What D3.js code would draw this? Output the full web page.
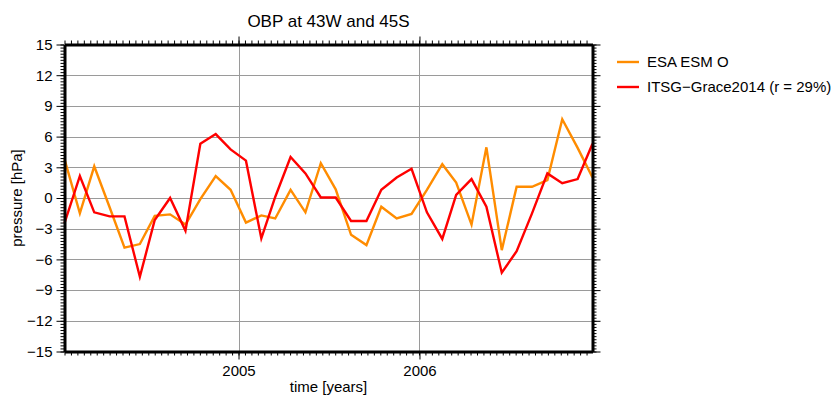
<!DOCTYPE html>
<html>
<head>
<meta charset="utf-8">
<script src="https://cdn.jsdelivr.net/npm/d3@7"></script>
<style>
  body { margin: 0; background: #fff; }
  svg { font-family: "Liberation Sans", Arial, sans-serif; }
  .grid line { stroke: #9a9a9a; stroke-width: 1; }
</style>
</head>
<body>
<div id="vis"></div>
<script>
// monthly samples, mid-month
const MONTHS = ["2004-01","2004-02","2004-03","2004-04","2004-05","2004-06","2004-07","2004-08","2004-09","2004-10","2004-11","2004-12",
                "2005-01","2005-02","2005-03","2005-04","2005-05","2005-06","2005-07","2005-08","2005-09","2005-10","2005-11","2005-12",
                "2006-01","2006-02","2006-03","2006-04","2006-05","2006-06","2006-07","2006-08","2006-09","2006-10","2006-11","2006-12"];

// ESA ESM O [hPa]
const ESA = [3.8, -1.5, 3.1, -0.9, -4.85, -4.5, -1.75, -1.6, -2.6, -0.1, 2.15, 0.8,
             -2.4, -1.7, -2.0, 0.8, -1.4, 3.4, 0.85, -3.6, -4.6, -0.85, -2.0, -1.55,
             0.8, 3.3, 1.5, -2.6, 4.95, -5.1, 1.1, 1.1, 1.75, 7.7, 4.9, 2.0];

// ITSG-Grace2014 [hPa]
const ITSG = [-2.45, 2.15, -1.4, -1.8, -1.8, -7.7, -2.15, 0.0, -3.2, 5.3, 6.25, 4.75,
              3.65, -3.95, 0.1, 4.0, 2.4, 0.05, 0.05, -2.25, -2.25, 0.8, 2.0, 2.85,
              -1.4, -4.0, 0.3, 1.85, -0.85, -7.3, -5.2, -1.5, 2.4, 1.45, 1.85, 5.3];

const Y_TICKS = [-15, -12, -9, -6, -3, 0, 3, 6, 9, 12, 15];
const X_TICKS = ["2005-01-01", "2006-01-01"];

const SERIES = [
  {name: "ESA ESM O", values: ESA, color: "#ff8c00"},
  {name: "ITSG\u2212Grace2014 (r = 29%)", values: ITSG, color: "#ff0000"}
];

const WIDTH = 840, HEIGHT = 396;
const PLOT = {left: 64.5, right: 592.5, top: 44.5, bottom: 351.5};

const parseMonth = d3.timeParse("%Y-%m");
const DATES = MONTHS.map((m) => d3.timeDay.offset(parseMonth(m), 15));

const svg = d3.select("#vis").append("svg")
  .attr("width", WIDTH)
  .attr("height", HEIGHT);

const X_SCALE = d3.scaleTime()
  .domain([DATES[0], DATES[DATES.length - 1]])
  .range([PLOT.left, PLOT.right]);

const Y_SCALE = d3.scaleLinear()
  .domain([-15, 15])
  .range([PLOT.bottom, PLOT.top]);

const xMajor = X_TICKS.map((d) => new Date(d + "T00:00:00"));
const xMinor = d3.timeDay.range(DATES[0], DATES[DATES.length - 1], 13);
const yMinor = d3.range(-15, 15.01, 0.3);

// grid
const grid = svg.append("g").attr("class", "grid");
grid.selectAll(".gy").data(Y_TICKS).enter().append("line")
  .attr("x1", PLOT.left).attr("x2", PLOT.right)
  .attr("y1", (d) => Math.round(Y_SCALE(d)) + 0.5)
  .attr("y2", (d) => Math.round(Y_SCALE(d)) + 0.5);
grid.selectAll(".gx").data(xMajor).enter().append("line")
  .attr("y1", PLOT.top).attr("y2", PLOT.bottom)
  .attr("x1", (d) => Math.round(X_SCALE(d)) + 0.5)
  .attr("x2", (d) => Math.round(X_SCALE(d)) + 0.5);

// series lines
const line = d3.line()
  .x((d, i) => X_SCALE(DATES[i]))
  .y((d) => Y_SCALE(d));

svg.selectAll(".series").data(SERIES).enter().append("path")
  .attr("d", (s) => line(s.values))
  .attr("fill", "none")
  .attr("stroke", (s) => s.color)
  .attr("stroke-width", 2.4)
  .attr("stroke-linejoin", "miter");

// axes, GMT style: thick frame, ticks pointing out
function styleAxis(g, width) {
  g.select(".domain").attr("stroke-width", width).attr("stroke", "#000");
  g.selectAll(".tick line").attr("stroke", "#000");
}

// minor ticks
svg.append("g")
  .attr("transform", "translate(" + PLOT.left + ",0)")
  .call(d3.axisLeft(Y_SCALE).tickValues(yMinor).tickSize(4).tickFormat(""))
  .call((g) => g.select(".domain").remove());
svg.append("g")
  .attr("transform", "translate(" + PLOT.right + ",0)")
  .call(d3.axisRight(Y_SCALE).tickValues(yMinor).tickSize(4).tickFormat(""))
  .call((g) => g.select(".domain").remove());
svg.append("g")
  .attr("transform", "translate(0," + PLOT.bottom + ")")
  .call(d3.axisBottom(X_SCALE).tickValues(xMinor).tickSize(4).tickFormat(""))
  .call((g) => g.select(".domain").remove());
svg.append("g")
  .attr("transform", "translate(0," + PLOT.top + ")")
  .call(d3.axisTop(X_SCALE).tickValues(xMinor).tickSize(4).tickFormat(""))
  .call((g) => g.select(".domain").remove());

// major ticks + labels
const yAxis = svg.append("g")
  .attr("transform", "translate(" + PLOT.left + ",0)")
  .call(d3.axisLeft(Y_SCALE).tickValues(Y_TICKS).tickSize(8).tickPadding(4).tickSizeOuter(0)
        .tickFormat((d) => d < 0 ? "\u2212" + Math.abs(d) : d));
styleAxis(yAxis, 3);
yAxis.selectAll("text").attr("font-size", 15).attr("fill", "#000");

const yAxisR = svg.append("g")
  .attr("transform", "translate(" + PLOT.right + ",0)")
  .call(d3.axisRight(Y_SCALE).tickValues(Y_TICKS).tickSize(8).tickSizeOuter(0).tickFormat(""));
styleAxis(yAxisR, 3);

const xAxis = svg.append("g")
  .attr("transform", "translate(0," + PLOT.bottom + ")")
  .call(d3.axisBottom(X_SCALE).tickValues(xMajor).tickSize(8).tickPadding(6).tickSizeOuter(0)
        .tickFormat(d3.timeFormat("%Y")));
styleAxis(xAxis, 3);
xAxis.selectAll("text").attr("font-size", 15).attr("fill", "#000");

const xAxisT = svg.append("g")
  .attr("transform", "translate(0," + PLOT.top + ")")
  .call(d3.axisTop(X_SCALE).tickValues(xMajor).tickSize(8).tickSizeOuter(0).tickFormat(""));
styleAxis(xAxisT, 3);

// titles
svg.append("text")
  .attr("x", (PLOT.left + PLOT.right) / 2).attr("y", 27)
  .attr("text-anchor", "middle").attr("font-size", 17)
  .text("OBP at 43W and 45S");

svg.append("text")
  .attr("x", (PLOT.left + PLOT.right) / 2).attr("y", 392)
  .attr("text-anchor", "middle").attr("font-size", 15)
  .text("time [years]");

svg.append("text")
  .attr("transform", "translate(22," + ((PLOT.top + PLOT.bottom) / 2) + ") rotate(-90)")
  .attr("text-anchor", "middle").attr("font-size", 15)
  .text("pressure [hPa]");

// legend
const legend = svg.selectAll(".legend").data(SERIES).enter().append("g")
  .attr("transform", (d, i) => "translate(617," + (62 + i * 25) + ")");
legend.append("line")
  .attr("x1", 0).attr("x2", 22)
  .attr("stroke", (d) => d.color).attr("stroke-width", 2.4);
legend.append("text")
  .attr("x", 30).attr("y", 5)
  .attr("font-size", 15)
  .text((d) => d.name);
</script>
</body>
</html>
